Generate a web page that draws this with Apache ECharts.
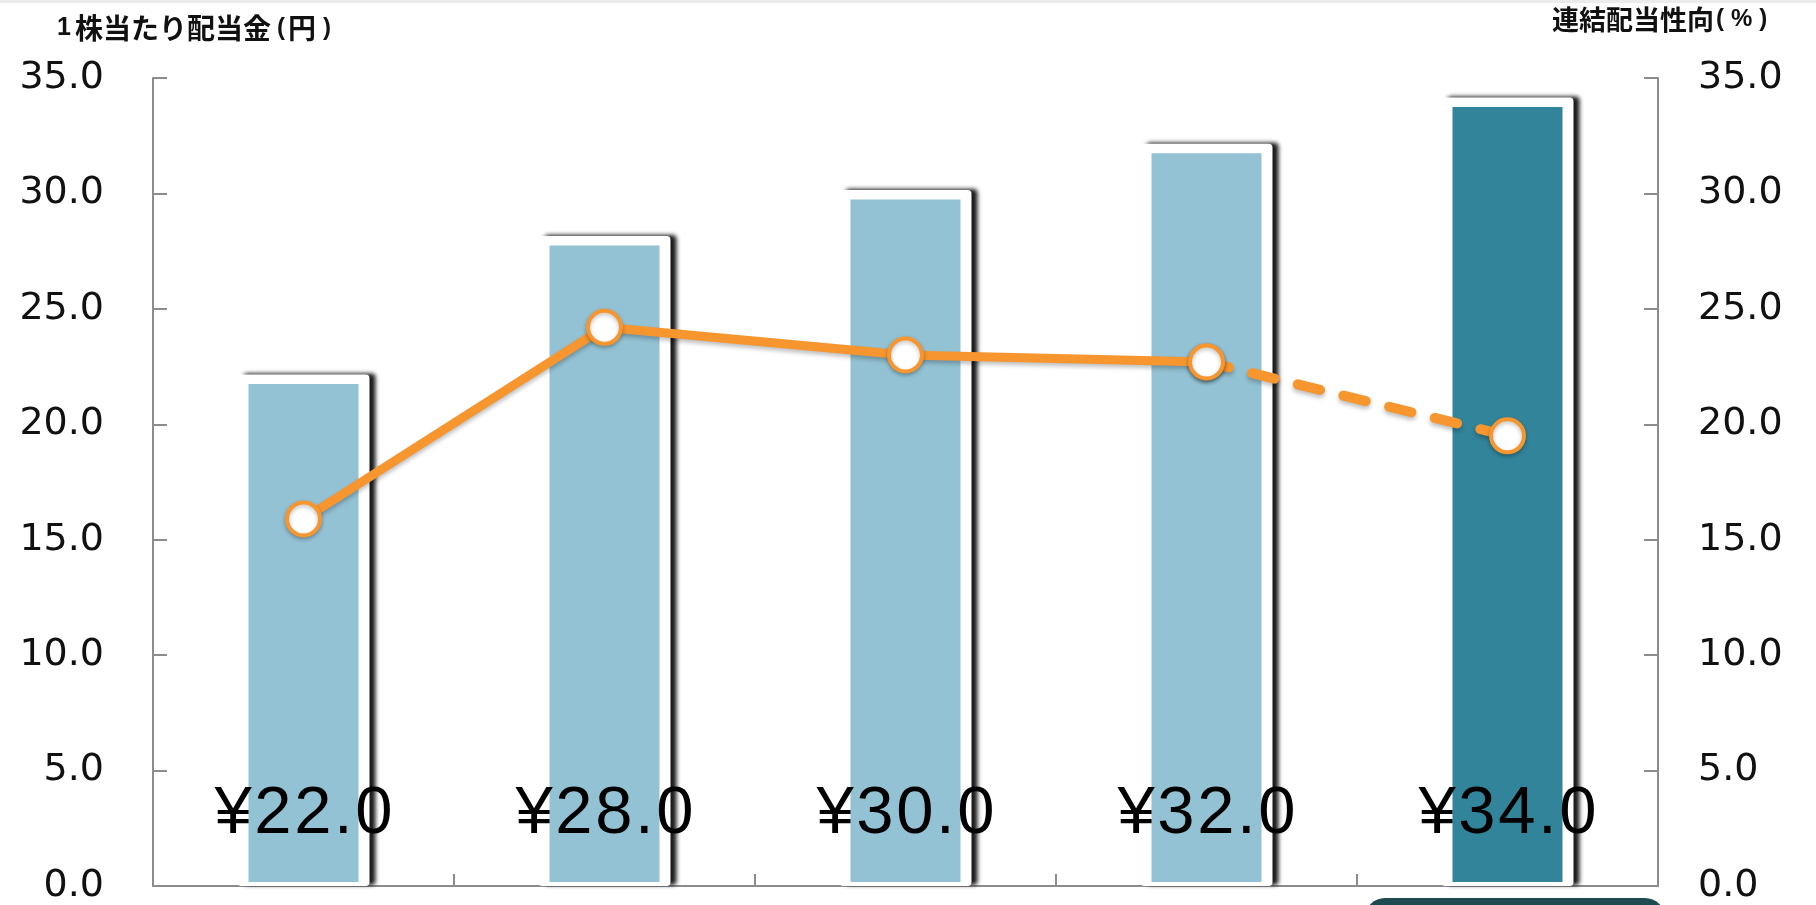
<!DOCTYPE html>
<html><head><meta charset="utf-8">
<script src="https://cdn.jsdelivr.net/npm/echarts@6/dist/echarts.min.js"></script>
<style>html,body{margin:0;padding:0;background:#fff}#c{width:1816px;height:905px}</style>
</head><body><div id="c"></div>
<script>
// ---- data ----
const categories = ['期1', '期2', '期3', '期4', '期5'];
const dividendYen = [22.0, 28.0, 30.0, 32.0, 34.0];      // 1株当たり配当金(円)
const payoutRatioPct = [15.9, 24.2, 23.0, 22.7, 19.5];   // 連結配当性向(%)
const actualCount = 4;                                   // last one is forecast
const yMin = 0, yMax = 35, yStep = 5;

// ---- styling ----
const LIGHT = '#93c2d4', DARK = '#32849b', ORANGE = '#f7962f', AXIS = '#8c8c8c';

const barData = dividendYen.map((v, i) => [i, v]);
const solidData = payoutRatioPct.map((v, i) => i < actualCount ? v : '-');
const dashData = payoutRatioPct.map((v, i) => i >= actualCount - 1 ? v : '-');

function spaced(str) {
  return str.split('').map(ch => '{c|' + ch + '}').join('');
}

function renderBar(params, api) {
  const i = api.value(0);
  const v = api.value(1);
  const top = api.coord([i, v]);
  const base = api.coord([i, 0]);
  const cx = top[0];
  const outerW = 132, innerW = 110;
  const color = i < actualCount ? LIGHT : DARK;
  return {
    type: 'group',
    children: [
      { type: 'rect',
        shape: { x: cx - outerW / 2, y: top[1] - 3.5, width: outerW, height: base[1] - top[1] + 3.5, r: 4 },
        style: { fill: '#ffffff', shadowColor: 'rgba(0,0,0,0.9)', shadowBlur: 4, shadowOffsetX: 6, shadowOffsetY: -1 } },
      { type: 'rect',
        shape: { x: cx - innerW / 2, y: top[1] + 6, width: innerW, height: base[1] - 4 - (top[1] + 6) },
        style: { fill: color } },
      { type: 'text', z2: 10,
        style: {
          x: cx, y: base[1] - 71, align: 'center', verticalAlign: 'middle',
          text: spaced('¥' + v.toFixed(1)),
          rich: { c: { fontFamily: 'Liberation Sans', fontSize: 67, fill: '#000', padding: [0, 1.3] } }
        } }
    ]
  };
}

const yAxisCommon = {
  type: 'value', min: yMin, max: yMax, interval: yStep,
  axisLine: { show: true, lineStyle: { color: AXIS, width: 2 } },
  axisTick: { show: true, inside: true, length: 14, lineStyle: { color: AXIS, width: 2 } },
  splitLine: { show: false },
  axisLabel: { fontFamily: 'DejaVu Sans', fontSize: 38, color: '#111', formatter: v => v.toFixed(1) }
};

const lineCommon = {
  type: 'line', yAxisIndex: 1, symbol: 'circle', symbolSize: 33,
  itemStyle: { color: '#ffffff', borderColor: ORANGE, borderWidth: 4,
    shadowColor: 'rgba(0,0,0,0.25)', shadowBlur: 4, shadowOffsetY: 2 },
  emphasis: { disabled: true }, silent: true
};

const option = {
  animation: false,
  backgroundColor: '#ffffff',
  title: [
    { left: 57, top: 14, padding: 0,
      text: '{n|1}{b|株当たり配当金}{p1|(}{b|円}{p2|)}',
      textStyle: { rich: {
        n: { fontFamily: 'Liberation Sans', fontSize: 25, color: '#111', padding: [0, 4, 0, 0] },
        b: { fontFamily: 'Noto Sans CJK JP', fontWeight: 'bold', fontSize: 28, color: '#111' },
        p1: { fontFamily: 'Liberation Sans', fontSize: 24, color: '#111', padding: [0, 3, 0, 6] },
        p2: { fontFamily: 'Liberation Sans', fontSize: 24, color: '#111', padding: [0, 0, 0, 7] }
      } } },
    { left: 1552, top: 6, padding: 0,
      text: '{b|連結配当性向}{p|(}{q|%}{p|)}',
      textStyle: { rich: {
        b: { fontFamily: 'Noto Sans CJK JP', fontWeight: 'bold', fontSize: 27, color: '#111' },
        p: { fontFamily: 'Liberation Sans', fontSize: 24, color: '#111', padding: [0, 2] },
        q: { fontFamily: 'Liberation Sans', fontSize: 24, color: '#111', padding: [0, 5] }
      } } }
  ],
  grid: { left: 153, right: 158, top: 78, bottom: 15 },
  xAxis: {
    type: 'category', data: categories,
    axisLine: { lineStyle: { color: AXIS, width: 2 } },
    axisTick: { show: true, inside: true, length: 12, lineStyle: { color: AXIS, width: 2 } },
    axisLabel: { show: false }
  },
  yAxis: [
    Object.assign({}, yAxisCommon, { position: 'left', axisLabel: Object.assign({}, yAxisCommon.axisLabel, { margin: 49 }) }),
    Object.assign({}, yAxisCommon, { position: 'right', axisLabel: Object.assign({}, yAxisCommon.axisLabel, { margin: 40 }) })
  ],
  graphic: [
    { type: 'rect', left: 0, top: 0, shape: { width: 1816, height: 3 }, style: { fill: '#ececec' }, silent: true },
    { type: 'rect', shape: { x: 1365, y: 898, width: 300, height: 40, r: 20 }, style: { fill: '#1f4b50' }, silent: true }
  ],
  series: [
    {
      type: 'custom', yAxisIndex: 0, data: barData, renderItem: renderBar,
      encode: { x: 0, y: 1 }, silent: true, z: 2
    },
    Object.assign({}, lineCommon, {
      data: dashData, z: 3,
      lineStyle: { color: ORANGE, width: 10, type: [23, 24], cap: 'round',
        shadowColor: 'rgba(0,0,0,0.25)', shadowBlur: 4, shadowOffsetY: 3 }
    }),
    Object.assign({}, lineCommon, {
      data: solidData, z: 4,
      lineStyle: { color: ORANGE, width: 9, cap: 'round', join: 'round',
        shadowColor: 'rgba(0,0,0,0.25)', shadowBlur: 4, shadowOffsetY: 3 }
    })
  ]
};

const chart = echarts.init(document.getElementById('c'), null, { renderer: 'canvas' });
chart.setOption(option);
</script>
</body></html>
